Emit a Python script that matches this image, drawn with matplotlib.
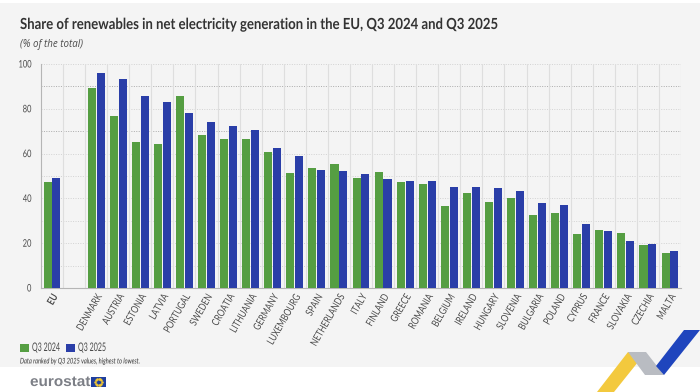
import matplotlib
matplotlib.use("Agg")
import numpy as np
import matplotlib.pyplot as plt
from matplotlib.patches import Polygon, Rectangle
from matplotlib.patheffects import AbstractPathEffect
from matplotlib.transforms import Affine2D

countries = ["EU", "", "DENMARK", "AUSTRIA", "ESTONIA", "LATVIA", "PORTUGAL", "SWEDEN", "CROATIA",
             "LITHUANIA", "GERMANY", "LUXEMBOURG", "SPAIN", "NETHERLANDS", "ITALY", "FINLAND",
             "GREECE", "ROMANIA", "BELGIUM", "IRELAND", "HUNGARY", "SLOVENIA", "BULGARIA", "POLAND",
             "CYPRUS", "FRANCE", "SLOVAKIA", "CZECHIA", "MALTA"]
q3_2024 = [47.5, np.nan, 89.5, 77.0, 65.0, 64.3, 85.5, 68.2, 66.3, 66.3, 60.5, 51.2, 53.5, 55.3,
           49.0, 51.9, 47.2, 46.3, 36.6, 42.4, 38.3, 40.3, 32.6, 33.5, 24.2, 25.9, 24.4, 19.2, 15.6]
q3_2025 = [49.3, np.nan, 95.9, 93.4, 85.6, 83.0, 78.2, 74.2, 72.5, 70.4, 62.7, 59.1, 52.8, 52.3,
           50.8, 48.5, 47.8, 47.8, 45.1, 45.1, 44.6, 43.5, 37.9, 37.2, 28.7, 25.4, 20.8, 19.5, 16.4]
y_ticks = [0, 20, 40, 60, 80, 100]

W, H = 700, 392
GREEN = "#559e42"
BLUE = "#2a3ea8"
GREY = "#4a4a4a"


def fx(px):
    return px / W


def fy(py):
    return 1 - py / H


class Narrow(AbstractPathEffect):
    # the reference font is condensed, none of the installed ones is
    def __init__(self, sx, anchor="left"):
        super().__init__()
        self.sx = sx
        self.anchor = anchor

    def draw_path(self, renderer, gc, tpath, affine, rgbFace=None):
        x0 = tpath.get_extents().x1 if self.anchor == "right" else 0
        squeeze = Affine2D().translate(-x0, 0).scale(self.sx, 1).translate(x0, 0)
        renderer.draw_path(gc, tpath, squeeze + affine, rgbFace)


fig = plt.figure(figsize=(W / 100, H / 100), dpi=100, facecolor="white")
fig.patches.append(Rectangle((0, fy(367)), 1, (367 - 3) / H, transform=fig.transFigure,
                             facecolor="#f4f4f4", edgecolor="none", zorder=-5))

ax = fig.add_axes([fx(41), fy(288), (681 - 41) / W, (288 - 64) / H])
ax.patch.set_alpha(0)
x = np.arange(len(countries))
w = 0.365
ax.bar(x - 0.2, q3_2024, w, color=GREEN, label="Q3 2024", zorder=3)
ax.bar(x + 0.2, q3_2025, w, color=BLUE, label="Q3 2025", zorder=3)

ax.set_xlim(-0.5, len(countries) - 0.5)
ax.set_ylim(0, 100)
ax.set_yticks(y_ticks)
ax.set_xticks(x)
ax.set_xticklabels(countries, rotation=60, ha="right", rotation_mode="anchor",
                   fontsize=7.5, color=GREY, family="Lato")
for lab in ax.get_xticklabels():
    lab.set_path_effects([Narrow(0.78, "right")])
ax.get_xticklabels()[0].set_fontweight("bold")
ax.tick_params(axis="both", length=0)
ax.tick_params(axis="x", pad=3.5)
ax.tick_params(axis="y", pad=7, labelsize=7.5, labelcolor=GREY)
for lab in ax.get_yticklabels():
    lab.set_family("Lato")
    lab.set_path_effects([Narrow(0.72, "right")])

for v in range(10, 101, 10):
    dark = v in (90, 70)
    ax.axhline(v, color="#aaaaaa" if dark else "#d2d2d2", lw=0.7, ls=(0, (1, 1.5)), zorder=1)
for b in np.arange(0.5, len(countries), 1):
    ax.axvline(b, color="#dedede", lw=0.8, zorder=1)

for s in ["top", "right"]:
    ax.spines[s].set_visible(False)
ax.spines["left"].set_color("#b5b5b5")
ax.spines["bottom"].set_color("#b5b5b5")
ax.spines["left"].set_linewidth(0.8)
ax.spines["bottom"].set_linewidth(0.8)

fig.text(fx(20), fy(25), "Share of renewables in net electricity generation in the EU, Q3 2024 and Q3 2025",
         fontsize=11, fontweight="bold", color="#333333", family="Lato", va="center",
         path_effects=[Narrow(0.86)])
fig.text(fx(20), fy(45), "(% of the total)", fontsize=7, style="italic", color=GREY,
         family="Open Sans", va="center")

# legend drawn by hand to sit at the reference spot
fig.patches.append(Rectangle((fx(20), fy(352)), 8.5 / W, 8.5 / H, transform=fig.transFigure, facecolor=GREEN))
fig.patches.append(Rectangle((fx(66), fy(352)), 8.5 / W, 8.5 / H, transform=fig.transFigure, facecolor=BLUE))
fig.text(fx(32), fy(347.5), "Q3 2024", fontsize=8.5, color=GREY, family="Lato", va="center",
         path_effects=[Narrow(0.6)])
fig.text(fx(78), fy(347.5), "Q3 2025", fontsize=8.5, color=GREY, family="Lato", va="center",
         path_effects=[Narrow(0.6)])
fig.text(fx(20), fy(361), "Data ranked by Q3 2025 values, highest to lowest.", fontsize=5.6, style="italic",
         color="#333333", family="Lato", va="center", path_effects=[Narrow(0.73)])

# eurostat logo
fig.text(fx(30), fy(382), "eurostat", fontsize=10.5, fontweight="bold", color="#7c7f86",
         family="Liberation Sans", va="center", path_effects=[Narrow(1.05)])
fig.patches.append(Rectangle((fx(91), fy(387)), 15 / W, 10 / H, transform=fig.transFigure,
                             facecolor="#1f3f9e", edgecolor="none"))
ang = np.linspace(0, 2 * np.pi, 12, endpoint=False)
fig.lines.append(plt.Line2D(fx(98.5) + 3.2 / W * np.cos(ang), fy(382) + 3.2 / H * np.sin(ang),
                            transform=fig.transFigure, ls="none", marker="o", ms=0.8, color="#f2c832"))

# ribbon at the lower right
ribbons = [([(597, 392), (628, 352), (646, 352), (614, 392)], "#f3c93e"),
           ([(628, 352), (646, 352), (664, 375), (645, 375)], "#b9bcc2"),
           ([(656, 366), (684, 330), (700, 330), (664, 375)], "#1f45bd")]
for pts, col in ribbons:
    fig.patches.append(Polygon([(fx(a), fy(b)) for a, b in pts], closed=True, transform=fig.transFigure,
                               facecolor=col, edgecolor="none"))

fig.savefig("out.png", dpi=100, facecolor="white")
